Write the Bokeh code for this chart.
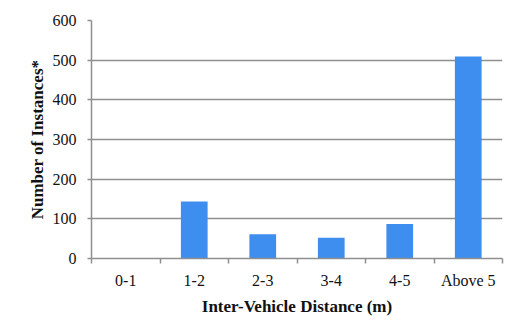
from bokeh.plotting import figure
from bokeh.models import Range1d, FixedTicker
from bokeh.embed import file_html
from bokeh.resources import INLINE

categories = ["0-1", "1-2", "2-3", "3-4", "4-5", "Above 5"]
instances = [0, 144, 61, 52, 87, 509]
y_ticks = [0, 100, 200, 300, 400, 500, 600]

centers = [i + 0.5 for i in range(len(categories))]
bounds = list(range(len(categories) + 1))

FONT = "Liberation Serif"
GRID = "#8f8f8f"

p = figure(width=517, height=327, output_backend="svg", toolbar_location=None,
           x_range=Range1d(0, len(categories)), y_range=Range1d(0, 600),
           min_border_left=91, min_border_right=15, min_border_top=20,
           min_border_bottom=69)
p.outline_line_color = None
p.background_fill_color = "white"
p.border_fill_color = "white"

p.vbar(x=centers, top=instances, width=0.39, bottom=0,
       fill_color="#3E8EF0", line_color=None)

# x axis
xa = p.xaxis[0]
xa.ticker = FixedTicker(ticks=centers, minor_ticks=bounds)
xa.major_label_overrides = {c: lab for c, lab in zip(centers, categories)}
xa.major_tick_out = 0
xa.major_tick_in = 0
xa.minor_tick_out = 5
xa.minor_tick_in = 0
xa.minor_tick_line_color = GRID
xa.minor_tick_line_width = 1.5
xa.axis_line_color = GRID
xa.axis_line_width = 1.5
xa.major_label_text_font = FONT
xa.major_label_text_font_size = "16px"
xa.major_label_text_color = "#111111"
xa.major_label_standoff = 8
xa.axis_label = "Inter-Vehicle Distance (m)"
xa.axis_label_text_font = FONT
xa.axis_label_text_font_size = "17px"
xa.axis_label_text_font_style = "bold"
xa.axis_label_text_color = "#111111"
xa.axis_label_standoff = 5

# y axis
ya = p.yaxis[0]
ya.ticker = FixedTicker(ticks=y_ticks, minor_ticks=[])
ya.major_tick_out = 4
ya.major_tick_in = 0
ya.major_tick_line_color = GRID
ya.major_tick_line_width = 1.5
ya.axis_line_color = GRID
ya.axis_line_width = 1.5
ya.major_label_text_font = FONT
ya.major_label_text_font_size = "16px"
ya.major_label_text_color = "#111111"
ya.major_label_standoff = 11
ya.axis_label = "Number of Instances*"
ya.axis_label_text_font = FONT
ya.axis_label_text_font_size = "17px"
ya.axis_label_text_font_style = "bold"
ya.axis_label_text_color = "#111111"
ya.axis_label_standoff = 3

p.xgrid.grid_line_color = None
p.ygrid.ticker = FixedTicker(ticks=y_ticks)
p.ygrid.grid_line_color = GRID
p.ygrid.grid_line_width = 1.5

open("out.html", "w").write(file_html(p, INLINE))
